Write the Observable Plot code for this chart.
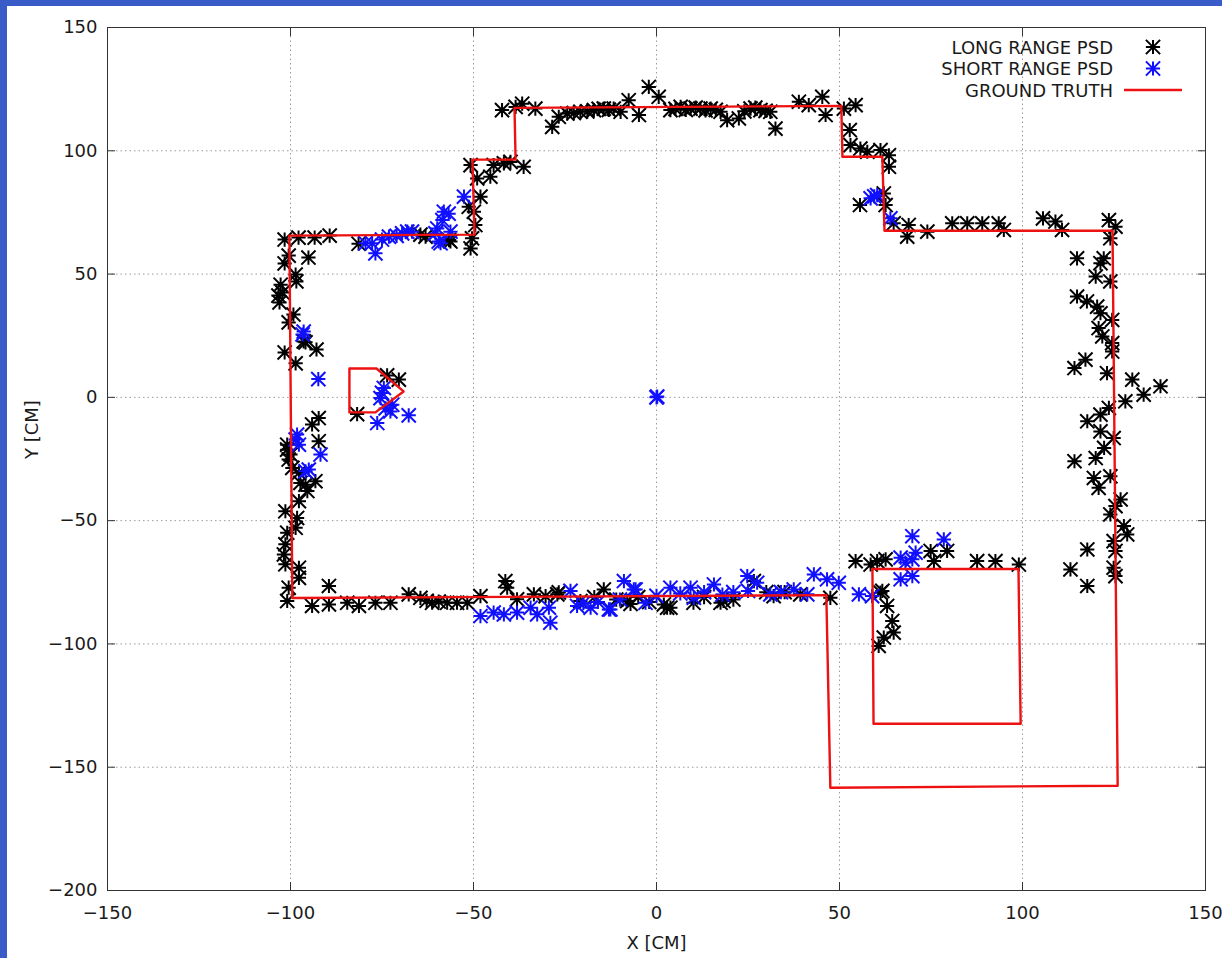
<!DOCTYPE html>
<html><head><meta charset="utf-8">
<script src="https://cdn.jsdelivr.net/npm/d3@7"></script>
<script src="https://cdn.jsdelivr.net/npm/@observablehq/plot@0.6"></script>
<style>
html,body{margin:0;padding:0;background:#3a5cc8;width:1222px;height:958px;overflow:hidden}
#page{position:absolute;left:7px;top:6px;width:1215px;height:952px;background:#fff}
#page svg{position:absolute;left:0;top:0}
</style></head><body><div id="page"></div>
<script>
const xTicks = [-150,-100,-50,0,50,100,150];
const yTicks = [-200,-150,-100,-50,0,50,100,150];
const seriesNames = ["LONG RANGE PSD","SHORT RANGE PSD","GROUND TRUTH"];

const longRange = [
[-101.6,64],[-97.8,64.8],[-93.4,64.8],[-89.3,65.6],[-100.5,57.5],[-101.6,54.3],[-95.1,56.7],[-98.6,49.8],[-98.4,47],[-102.7,45.7],[-102.2,42.5],[-103.3,41.3],[-103,38.5],[-99.2,33.6],[-100.5,30.4],[-95.9,22.3],[-92.9,19.4],[-101.6,18.2],[-98.6,13.8],[-96.4,22.7],
[-92.3,-8.4],[-94.1,-11],[-92.3,-17.8],[-100.9,-21.2],[-100.9,-19.2],[-100,-23.2],[-100.5,-25.2],[-99.5,-28.6],[-97.7,-30.6],[-93.2,-34],[-97.3,-34.7],[-95.9,-35.4],[-95.4,-38],[-97.7,-42.1],[-101.4,-46.2],[-98.2,-48.9],[-98.6,-52.9],[-100.9,-54.9],[-101.4,-59.6],[-101.8,-63.7],[-101.4,-67.7],[-97.7,-69.1],[-97.7,-73.2],[-100.5,-77.2],[-100.9,-82.6],[-89.5,-76.5],
[-73.6,8.9],[-70.4,7.2],[-81.8,-6.8],
[-94.1,-84.6],[-89.5,-84],[-84.5,-83.3],[-81.3,-84.6],[-76.8,-83.3],[-72.7,-83.3],[-67.7,-79.9],[-64.5,-81.3],[-62.8,-82.5],[-61.3,-83.3],[-59.5,-82.8],[-57.2,-83.3],[-54.5,-83.3],[-51.7,-83.3],[-48.1,-80.6],[-41.3,-74.5],[-40.8,-77.2],[-38.1,-81.9],[-33.5,-79.9],[-30.3,-80.6],[-27.1,-79.9],[-26.7,-79.1],[-20.8,-82.6],[-17,-81],[-14.4,-77.9],[-11,-82],[-8,-82.6],[-7.1,-83.8],[-5,-81],[-2,-83],[2,-84],[2.9,-85.3],[3.8,-85.3],[10.1,-83.3],[13,-81],[17.5,-83.3],[18.3,-82.6],[21,-82],[26.6,-74.5],[30,-79],[32,-80.6],[35,-79],[39.3,-79.9],[47.5,-81.3],
[52.8,108.4],[53,102.3],[55.7,100.9],[57.6,99.6],[61.2,100.3],[63.5,98.2],[63.5,93.5],[55.6,78],[62.1,82.7],[62.6,78],[64.8,70.6],[68.5,65.2],[68.9,69.9],[74,67.2],[80.8,70.6],[84.9,70.6],[89,70.6],[93.5,70.6],[94.9,67.9],[105.6,72.6],[109,71.3],[110.8,67.9],[123.6,71.9],[125.4,69.2],[124,64.5],
[114.9,56.4],[122.2,56.4],[121.3,54.4],[120,49],[124,47],[114.9,40.9],[117.6,38.9],[120.4,36.8],[121.3,34.1],[124.5,31.4],[120.8,28.1],[121.8,24.7],[124.5,22],[124.5,18.6],[117.2,15.3],[114.2,11.9],[123.1,9.8],[130,7.2],[133.1,1.1],[137.7,4.5],[128.1,-1.6],[123.6,-4.3],[121.3,-7],[117.7,-9.7],[121.3,-13.8],[124.9,-16.5],[122.3,-20.5],[120,-24.6],[114.2,-25.9],[124,-32],[119.5,-32.7],[120.8,-36.7],[126.8,-41.4],[125.4,-44.1],[124,-47.5],[127.7,-52.2],[128.6,-55.6],[124.9,-58.3],[117.7,-61.7],[125.4,-62.3],[124.9,-69.1],[113.1,-69.8],[125.4,-72.5],[117.7,-76.5],
[54.4,-66.4],[58.5,-67.8],[60.3,-66.4],[62.6,-65.7],[74.9,-62.3],[79.4,-62.3],[75.8,-66.4],[87.6,-66.4],[92.6,-66.4],[99,-67.8],[61.2,-79.2],[61.7,-78.5],[63,-84.6],[64.4,-90.7],[64.8,-95.4],[62.1,-97.4],[60.7,-100.8],
[-42.2,116.5],[-38.5,117.8],[-36.7,119.1],[-33.1,117.1],[-28.5,109.7],[-26.7,113.8],[-24.4,115.1],[-22.6,115.3],[-20.8,115.8],[-18.9,116],[-17.1,116.5],[-15.8,117],[-14.4,117.1],[-13,116.6],[-11.7,117.1],[-9.8,115.8],[-7.6,120.5],[-4.8,114.5],[-2.1,125.9],[0.6,121.9],[3.8,116.5],[5.2,117],[6.6,117.8],[8,116.6],[9.3,117.1],[10.7,117.5],[12,117.1],[13.4,116.4],[14.8,117.1],[16.2,116.6],[17.5,115.8],[19.3,112.4],[22.5,113.1],[24,116],[25.7,117.1],[27,117.5],[28.4,116.5],[29.8,116.2],[31.1,115.8],[32.5,109],[38.9,119.9],[41.6,118.5],[45.3,121.9],[46.2,114.5],[51.2,117.1],[54.4,118.5],
[-50.8,60.4],[-50.4,64.5],[-49.5,69.9],[-49.9,75.3],[-51.3,77.3],[-48.1,81.4],[-49,88.8],[-50.8,94.2],[-45.4,89.5],[-44.5,94.2],[-41.7,94.9],[-39.9,95.5],[-36.3,93.5],
[-81.4,62.3],[-64.5,66],[-63.1,65.2],[-56.3,63.2],[-56.7,63.8]
];

const shortRange = [
[-96.4,26.7],[-96.7,25.5],[-92.4,7.4],[-98.2,-15.1],[-97.7,-19.2],[-98.6,-17.1],[-91.8,-23.2],[-95,-29.3],[-95.9,-30],
[-75,1.8],[-75.4,-0.3],[-74.5,3.8],[-72.7,-5.7],[-76.3,-10.4],[-67.7,-7.3],[-72.2,-3],[-74,-4.5],
[-77.7,62.5],[-76.8,58.4],[-79.5,62.5],[-75,64],[-73.1,65.2],[-71,65.5],[-69.5,66.5],[-68.1,67.2],[-66.8,67.2],[-60.4,66.5],[-59,62.5],[-58.5,71.9],[-59.5,63.2],[-58.1,75.3],[-56.8,74.5],[-52.6,81.4],[-59.9,68.5],[-56.3,67.2],
[58.5,80.7],[59.5,81.5],[60.3,82],[63.9,72.6],
[0,0],[0.2,0.3],
[-48.1,-88.7],[-44.5,-87.3],[-41.7,-88],[-38.1,-87.3],[-34.4,-85.3],[-32.6,-88],[-29,-91.4],[-29.4,-85.3],[-23.5,-78.5],[-21.7,-84.6],[-20,-83.5],[-18,-85.3],[-16,-83],[-13,-86],[-12.6,-86],[-10,-82],[-8.9,-74.5],[-6.2,-77.9],[-5.7,-77.9],[-3,-83.3],[0,-80.5],
[3.8,-77.2],[6.5,-79.5],[9.3,-77.2],[10.2,-81.3],[13,-79],[15.7,-75.9],[18,-80],[21,-79],[24.8,-72.5],[25,-78.5],[27.5,-75.2],[31.1,-79.9],[34,-79],[37.5,-77.9],[41.2,-79.9],[43,-71.8],[46.6,-73.8],[49.8,-75.2],[55.3,-79.9],[58.9,-80.6],
[69.9,-56.3],[78.5,-57.6],[66.7,-65],[68,-67],[70.8,-63],[69.9,-65.7],[66.7,-73.8],[69.9,-72.5]
];

const truthOuter = [[-100.3,65.6],[-99.5,-81.4],[46.4,-80.2],[47.5,-158.3],[126,-157.5],[124.6,67.6],[62.3,67.6],[61.7,97.6],[50.8,97.6],[50.5,118.2],[-38.8,117.4],[-38.5,96.4],[-50.3,96.4],[-49.7,66],[-100.3,65.6]];
const truthBox = [[59,-69.6],[98.9,-69.6],[99.5,-132.4],[59.3,-132.4],[59,-69.6]];
const truthObstacle = [[-83.9,11.7],[-76.5,11.7],[-69.1,2.4],[-76.8,-6.1],[-83.9,-6.1],[-83.9,11.7]];

const BLACK = "#000000", BLUE = "#1010ff", RED = "#ee1111";

const gpStar = {draw(ctx, size){
  const h = Math.sqrt(size) / 2;
  ctx.moveTo(-h,0); ctx.lineTo(h,0);
  ctx.moveTo(0,-h); ctx.lineTo(0,h);
  ctx.moveTo(-h,-h); ctx.lineTo(h,h);
  ctx.moveTo(-h,h); ctx.lineTo(h,-h);
}};

const truth = [
  ...truthOuter.map(p => ({x:p[0], y:p[1], seg:0})),
  ...truthBox.map(p => ({x:p[0], y:p[1], seg:1})),
  ...truthObstacle.map(p => ({x:p[0], y:p[1], seg:2}))
];

const TXT = "#1a1a1a";
const chart = Plot.plot({
  width: 1215, height: 952,
  marginLeft: 100, marginRight: 17, marginTop: 21, marginBottom: 68,
  style: {fontFamily: "DejaVu Sans", fontSize: "18px", color: TXT, background: "transparent"},
  x: {domain: [-150,150], label: null},
  y: {domain: [-200,150], label: null},
  marks: [
    Plot.gridX(xTicks, {stroke: "#9a9a9a", strokeOpacity: 1, strokeDasharray: "1.5,3"}),
    Plot.gridY(yTicks, {stroke: "#9a9a9a", strokeOpacity: 1, strokeDasharray: "1.5,3"}),
    Plot.axisX(xTicks, {anchor: "bottom", tickSize: 0, tickPadding: 16, label: null}),
    Plot.axisY(yTicks, {anchor: "left", tickSize: 0, tickPadding: 10, label: null}),
    Plot.axisX(xTicks, {anchor: "bottom", tickSize: 8, dy: -8, fill: "none", label: null, stroke: "#333"}),
    Plot.axisX(xTicks, {anchor: "top", tickSize: 8, dy: 8, fill: "none", label: null, stroke: "#333"}),
    Plot.axisY(yTicks, {anchor: "left", tickSize: 8, dx: 8, fill: "none", label: null, stroke: "#333"}),
    Plot.axisY(yTicks, {anchor: "right", tickSize: 8, dx: -8, fill: "none", label: null, stroke: "#333"}),
    Plot.frame({stroke: "#333"}),
    Plot.dot(longRange, {x: d => d[0], y: d => d[1], symbol: gpStar, r: 8, stroke: BLACK, strokeWidth: 2}),
    Plot.dot(shortRange, {x: d => d[0], y: d => d[1], symbol: gpStar, r: 8, stroke: BLUE, strokeWidth: 2}),
    Plot.line(truth, {x: "x", y: "y", z: "seg", stroke: RED, strokeWidth: 2.4}),
    Plot.text(["X [CM]"], {frameAnchor: "bottom", dy: 58, fill: TXT}),
    Plot.text(["Y [CM]"], {frameAnchor: "left", rotate: -90, dx: -75, fill: TXT})
  ]
});
document.getElementById("page").appendChild(chart);

// legend overlay (inside plot, top-right)
const colors = [BLACK, BLUE, RED];
const lg = d3.select("#page").append("svg")
  .attr("width", 1215).attr("height", 120)
  .style("pointer-events", "none");
const starPath = d3.symbol().type(gpStar).size(Math.PI * 64)();
seriesNames.forEach((name, i) => {
  const cy = 41 + i * 21.5;
  lg.append("text").attr("x", 1106).attr("y", cy)
    .attr("text-anchor", "end").attr("dominant-baseline", "central")
    .attr("font-family", "DejaVu Sans").attr("font-size", 18).attr("fill", TXT)
    .text(name);
  if (i < 2) {
    lg.append("path").attr("d", starPath).attr("transform", `translate(1146,${cy})`)
      .attr("fill", "none").attr("stroke", colors[i]).attr("stroke-width", 2);
  } else {
    lg.append("line").attr("x1", 1117).attr("x2", 1175).attr("y1", cy).attr("y2", cy)
      .attr("stroke", colors[i]).attr("stroke-width", 2.4);
  }
});
</script>
</body></html>
